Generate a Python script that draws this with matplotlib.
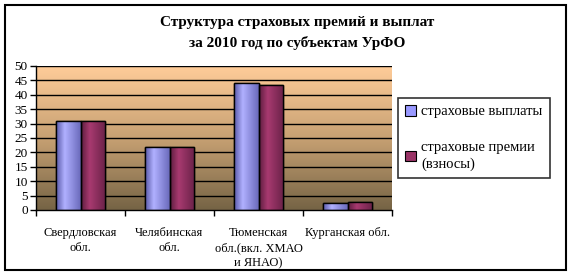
import matplotlib
matplotlib.use("Agg")
import matplotlib.pyplot as plt
import numpy as np
from matplotlib.patches import Rectangle, Patch
from matplotlib.colors import LinearSegmentedColormap

categories = ["Свердловская\nобл.", "Челябинская\nобл.", "Тюменская\nобл.(вкл. ХМАО\nи ЯНАО)", "Курганская обл."]
payouts = [31, 22, 44, 2.5]
premiums = [31, 22, 43.5, 2.8]
series_names = ["страховые выплаты", "страховые премии\n(взносы)"]
yticks = list(range(0, 51, 5))
title = "Структура страховых премий и выплат\nза 2010 год по субъектам УрФО"

plt.rcParams['font.family'] = ['Liberation Serif', 'DejaVu Serif']

W, H = 572, 276
fig = plt.figure(figsize=(W / 100, H / 100), dpi=100)

def px(x0, y0, x1, y1):
    return [x0 / W, 1 - y1 / H, (x1 - x0) / W, (y1 - y0) / H]

ax = fig.add_axes(px(36, 66, 392, 210))
ax.set_xlim(-0.5, 3.5)
ax.set_ylim(0, 50)

# background gradient
bg = LinearSegmentedColormap.from_list("bg", [(0.0, (0.46, 0.39, 0.27)), (0.5, (0.78, 0.63, 0.45)), (1.0, (1.0, 0.80, 0.60))])
grad = np.linspace(0, 1, 256).reshape(-1, 1)
ax.imshow(grad, cmap=bg, origin="lower", extent=[-0.5, 3.5, 0, 50], aspect="auto", zorder=0)

for y in yticks[1:]:
    ax.axhline(y, color="black", lw=1.0, zorder=1)

x = np.arange(len(categories))
bw = 0.28
b1 = ax.bar(x - bw / 2, payouts, bw, color="#9999ff", edgecolor="black", lw=1.0, zorder=2)
b2 = ax.bar(x + bw / 2, premiums, bw, color="#993366", edgecolor="black", lw=1.0, zorder=2)

cm_blue = LinearSegmentedColormap.from_list("bl", [(0.0, "#5a5aa8"), (0.35, "#b0b0ff"), (1.0, "#6a6abb")])
cm_red = LinearSegmentedColormap.from_list("rd", [(0.0, "#5e1e40"), (0.35, "#a83a70"), (1.0, "#6a2248")])
hg = np.linspace(0, 1, 64).reshape(1, -1)
for bars, cm in ((b1, cm_blue), (b2, cm_red)):
    for r in bars:
        x0, y0 = r.get_x(), r.get_y()
        im = ax.imshow(hg, cmap=cm, extent=[x0, x0 + r.get_width(), y0, y0 + r.get_height()],
                       aspect="auto", zorder=2.5)
        im.set_clip_path(r)
        edge = Rectangle((x0, y0), r.get_width(), r.get_height(), fill=False, ec="black", lw=1.0, zorder=3)
        ax.add_patch(edge)

ax.set_xlim(-0.5, 3.5)
ax.set_ylim(0, 50)

ax.set_yticks(yticks)
ax.tick_params(axis="y", direction="out", length=4, width=1, pad=2, labelsize=9.5)
ax.set_xticks(x)
ax.set_xticklabels(categories, fontsize=9, linespacing=1.35)
ax.set_xticks(np.arange(-0.5, 4, 1), minor=True)
ax.tick_params(axis="x", which="major", length=0, pad=12)
ax.tick_params(axis="x", which="minor", direction="out", length=4, width=1)
for s in ("top", "right"):
    ax.spines[s].set_visible(False)
ax.spines["left"].set_linewidth(1)
ax.spines["bottom"].set_linewidth(1)

fig.text(297 / W, 1 - 33 / H, title, ha="center", va="center", fontsize=11,
         fontweight="bold", linespacing=1.55)

handles = [Patch(facecolor="#9999ff", edgecolor="black", lw=0.8),
           Patch(facecolor="#993366", edgecolor="black", lw=0.8)]
leg = fig.legend(handles, series_names, loc="upper left", bbox_to_anchor=(398 / W, 1 - 98 / H),
                 fontsize=10.5, frameon=True, fancybox=False, handlelength=0.7, handleheight=0.7,
                 handletextpad=0.4, labelspacing=1.55, borderpad=0.5, borderaxespad=0)
leg.get_frame().set_edgecolor("black")
leg.get_frame().set_linewidth(1.2)
for t in leg.get_texts():
    t.set_linespacing(1.35)

fig.patches.append(Rectangle((5 / W, 1 - 270 / H), 561 / W, 265 / H, transform=fig.transFigure,
                             fill=False, ec="black", lw=1.5))

fig.savefig("out.png", dpi=100)
